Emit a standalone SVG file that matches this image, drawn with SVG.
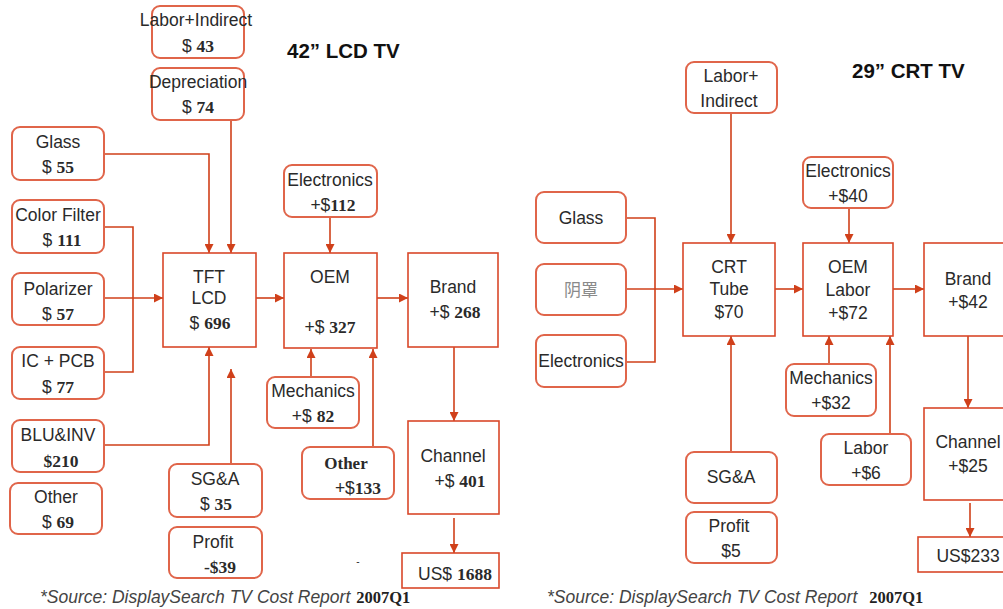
<svg xmlns="http://www.w3.org/2000/svg" width="1003" height="609" viewBox="0 0 1003 609">
<defs>
<marker id="ah" viewBox="0 0 10 10" refX="10" refY="5" markerWidth="9" markerHeight="9" markerUnits="userSpaceOnUse" orient="auto">
<path d="M0,0 L10,5 L0,10 z" fill="#d0401a"/>
</marker>
<style>
.rb{fill:#fff;stroke:#e0654a;stroke-width:2}
.sq{fill:#fff;stroke:#d9482a;stroke-width:1.6}
.t{font-family:"Liberation Sans",Arial,sans-serif;font-size:17.5px;fill:#2a2a2a;text-anchor:middle}
.n{font-family:"Liberation Serif","Times New Roman",serif;font-size:17.5px;font-weight:bold}
.cjk{font-family:"Liberation Sans","Noto Sans CJK SC",sans-serif;font-size:17px;fill:#8a8a8a;text-anchor:middle}
.title{font-family:"Liberation Sans",Arial,sans-serif;font-size:20.5px;font-weight:bold;fill:#111}
.src{font-family:"Liberation Sans",Arial,sans-serif;font-size:17.5px;font-style:italic;fill:#444}
.src2{font-family:"Liberation Serif","Times New Roman",serif;font-size:16.5px;font-weight:bold;fill:#222}
.c{fill:none;stroke:#d0401a;stroke-width:1.6}
.ca{fill:none;stroke:#d0401a;stroke-width:1.6;marker-end:url(#ah)}
</style>
</defs>
<rect width="1003" height="609" fill="#fff"/>

<!-- Titles -->
<text class="title" x="287" y="58">42” LCD TV</text>
<text class="title" x="852" y="78">29” CRT TV</text>

<!-- Connectors -->
<g id="connectors">
<!-- LCD -->
<path class="ca" d="M231,120 V253"/>
<path class="ca" d="M104,154 H209 V253"/>
<path class="c" d="M104,227 H133 V372 H104"/>
<path class="ca" d="M104,298 H163"/>
<path class="ca" d="M104,445 H209 V347"/>
<path class="ca" d="M231,464 V369"/>
<path class="ca" d="M256,298 H284"/>
<path class="ca" d="M330,217 V253"/>
<path class="ca" d="M311,377 V349"/>
<path class="ca" d="M373,447 V349"/>
<path class="ca" d="M377,298 H408"/>
<path class="ca" d="M454,347 V421"/>
<path class="ca" d="M454,518 V553"/>
<!-- CRT -->
<path class="ca" d="M731,113 V243"/>
<path class="c" d="M626,218 H655 V362 H626"/>
<path class="ca" d="M626,289 H683"/>
<path class="ca" d="M775,289 H803"/>
<path class="ca" d="M849,208 V243"/>
<path class="ca" d="M893,289 H924"/>
<path class="ca" d="M731,452 V336"/>
<path class="ca" d="M829,364 V336"/>
<path class="ca" d="M890,434 V336"/>
<path class="ca" d="M968,336 V408"/>
<path class="ca" d="M970,503 V537"/>
</g>

<!-- LCD nodes -->
<g id="lcd-labor">
<rect class="rb" x="152" y="6" width="92" height="52" rx="8"/>
<text class="t" x="196" y="26">Labor+Indirect</text>
<text class="t" x="198" y="52">$ <tspan class="n">43</tspan></text>
</g>
<g id="lcd-depreciation">
<rect class="rb" x="152" y="68" width="92" height="52" rx="8"/>
<text class="t" x="198" y="88">Depreciation</text>
<text class="t" x="198" y="113">$ <tspan class="n">74</tspan></text>
</g>
<g id="lcd-glass">
<rect class="rb" x="12" y="127" width="92" height="53" rx="8"/>
<text class="t" x="58" y="148">Glass</text>
<text class="t" x="58" y="173">$ <tspan class="n">55</tspan></text>
</g>
<g id="lcd-colorfilter">
<rect class="rb" x="12" y="200" width="92" height="53" rx="8"/>
<text class="t" x="58" y="221">Color Filter</text>
<text class="t" x="62" y="246">$ <tspan class="n">111</tspan></text>
</g>
<g id="lcd-polarizer">
<rect class="rb" x="12" y="273" width="92" height="52" rx="8"/>
<text class="t" x="58" y="295">Polarizer</text>
<text class="t" x="58" y="320">$ <tspan class="n">57</tspan></text>
</g>
<g id="lcd-icpcb">
<rect class="rb" x="12" y="347" width="92" height="52" rx="8"/>
<text class="t" x="58" y="367">IC + PCB</text>
<text class="t" x="58" y="393">$ <tspan class="n">77</tspan></text>
</g>
<g id="lcd-bluinv">
<rect class="rb" x="12" y="420" width="92" height="52" rx="8"/>
<text class="t" x="58" y="441">BLU&amp;INV</text>
<text class="t" x="61" y="467"><tspan class="n">$210</tspan></text>
</g>
<g id="lcd-other">
<rect class="rb" x="10" y="483" width="92" height="51" rx="8"/>
<text class="t" x="56" y="503">Other</text>
<text class="t" x="58" y="528">$ <tspan class="n">69</tspan></text>
</g>
<g id="lcd-tft">
<rect class="sq" x="163" y="253" width="93" height="94"/>
<text class="t" x="209" y="283">TFT</text>
<text class="t" x="209" y="304">LCD</text>
<text class="t" x="210" y="329">$ <tspan class="n">696</tspan></text>
</g>
<g id="lcd-oem">
<rect class="sq" x="284" y="253" width="93" height="95"/>
<text class="t" x="330" y="283">OEM</text>
<text class="t" x="330" y="333">+$ <tspan class="n">327</tspan></text>
</g>
<g id="lcd-brand">
<rect class="sq" x="408" y="253" width="90" height="94"/>
<text class="t" x="453" y="293">Brand</text>
<text class="t" x="455" y="318">+$ <tspan class="n">268</tspan></text>
</g>
<g id="lcd-electronics">
<rect class="rb" x="284" y="165" width="93" height="52" rx="8"/>
<text class="t" x="330" y="186">Electronics</text>
<text class="t" x="333" y="211">+$<tspan class="n">112</tspan></text>
</g>
<g id="lcd-mechanics">
<rect class="rb" x="267" y="377" width="92" height="51" rx="8"/>
<text class="t" x="313" y="397">Mechanics</text>
<text class="t" x="313" y="422">+$ <tspan class="n">82</tspan></text>
</g>
<g id="lcd-other2">
<rect class="rb" x="302" y="447" width="92" height="52" rx="8"/>
<text class="t" x="346" y="469"><tspan class="n" style="font-size:17px">Other</tspan></text>
<text class="t" x="358" y="494">+$<tspan class="n">133</tspan></text>
</g>
<g id="lcd-sga">
<rect class="rb" x="169" y="464" width="93" height="53" rx="8"/>
<text class="t" x="215" y="485">SG&amp;A</text>
<text class="t" x="216" y="510">$ <tspan class="n">35</tspan></text>
</g>
<g id="lcd-profit">
<rect class="rb" x="169" y="527" width="93" height="51" rx="8"/>
<text class="t" x="213" y="548">Profit</text>
<text class="t" x="220" y="573"><tspan class="n">-$39</tspan></text>
</g>
<g id="lcd-channel">
<rect class="sq" x="408" y="421" width="91" height="93"/>
<text class="t" x="453" y="462">Channel</text>
<text class="t" x="460" y="487">+$ <tspan class="n">401</tspan></text>
</g>
<g id="lcd-total">
<rect class="sq" x="402" y="553" width="97" height="35"/>
<text class="t" x="455" y="580">US$ <tspan class="n">1688</tspan></text>
</g>
<text class="t" x="358" y="565" style="font-size:10px">-</text>

<!-- CRT nodes -->
<g id="crt-labor">
<rect class="rb" x="686" y="62" width="91" height="51" rx="8"/>
<text class="t" x="731" y="82">Labor+</text>
<text class="t" x="729" y="107">Indirect</text>
</g>
<g id="crt-electronics">
<rect class="rb" x="803" y="157" width="90" height="51" rx="8"/>
<text class="t" x="848" y="177">Electronics</text>
<text class="t" x="848" y="202">+$40</text>
</g>
<g id="crt-glass">
<rect class="rb" x="536" y="192" width="90" height="51" rx="8"/>
<text class="t" x="581" y="224">Glass</text>
</g>
<g id="crt-mask">
<rect class="rb" x="536" y="264" width="90" height="51" rx="8"/>
<text class="cjk" x="581" y="296">阴罩</text>
</g>
<g id="crt-electronics2">
<rect class="rb" x="536" y="335" width="90" height="52" rx="8"/>
<text class="t" x="581" y="367">Electronics</text>
</g>
<g id="crt-tube">
<rect class="sq" x="683" y="243" width="92" height="93"/>
<text class="t" x="729" y="273">CRT</text>
<text class="t" x="729" y="295">Tube</text>
<text class="t" x="729" y="318">$70</text>
</g>
<g id="crt-oem">
<rect class="sq" x="803" y="243" width="90" height="93"/>
<text class="t" x="848" y="273">OEM</text>
<text class="t" x="848" y="296">Labor</text>
<text class="t" x="848" y="319">+$72</text>
</g>
<g id="crt-brand">
<rect class="sq" x="924" y="243" width="92" height="93"/>
<text class="t" x="968" y="285">Brand</text>
<text class="t" x="968" y="308">+$42</text>
</g>
<g id="crt-mechanics">
<rect class="rb" x="786" y="364" width="90" height="52" rx="8"/>
<text class="t" x="831" y="384">Mechanics</text>
<text class="t" x="831" y="409">+$32</text>
</g>
<g id="crt-labor2">
<rect class="rb" x="821" y="434" width="90" height="51" rx="8"/>
<text class="t" x="866" y="454">Labor</text>
<text class="t" x="866" y="479">+$6</text>
</g>
<g id="crt-sga">
<rect class="rb" x="686" y="452" width="91" height="51" rx="8"/>
<text class="t" x="731" y="483">SG&amp;A</text>
</g>
<g id="crt-profit">
<rect class="rb" x="686" y="512" width="91" height="51" rx="8"/>
<text class="t" x="729" y="532">Profit</text>
<text class="t" x="731" y="557">$5</text>
</g>
<g id="crt-channel">
<rect class="sq" x="924" y="408" width="92" height="92"/>
<text class="t" x="968" y="448">Channel</text>
<text class="t" x="968" y="472">+$25</text>
</g>
<g id="crt-total">
<rect class="sq" x="918" y="537" width="98" height="35"/>
<text class="t" x="968" y="562">US$233</text>
</g>

<!-- Source notes -->
<text x="40" y="603"><tspan class="src">*Source: DisplaySearch TV Cost Report </tspan><tspan class="src2" dx="1">2007Q1</tspan></text>
<text x="547" y="603"><tspan class="src">*Source: DisplaySearch TV Cost Report </tspan><tspan class="src2" dx="7">2007Q1</tspan></text>
</svg>
